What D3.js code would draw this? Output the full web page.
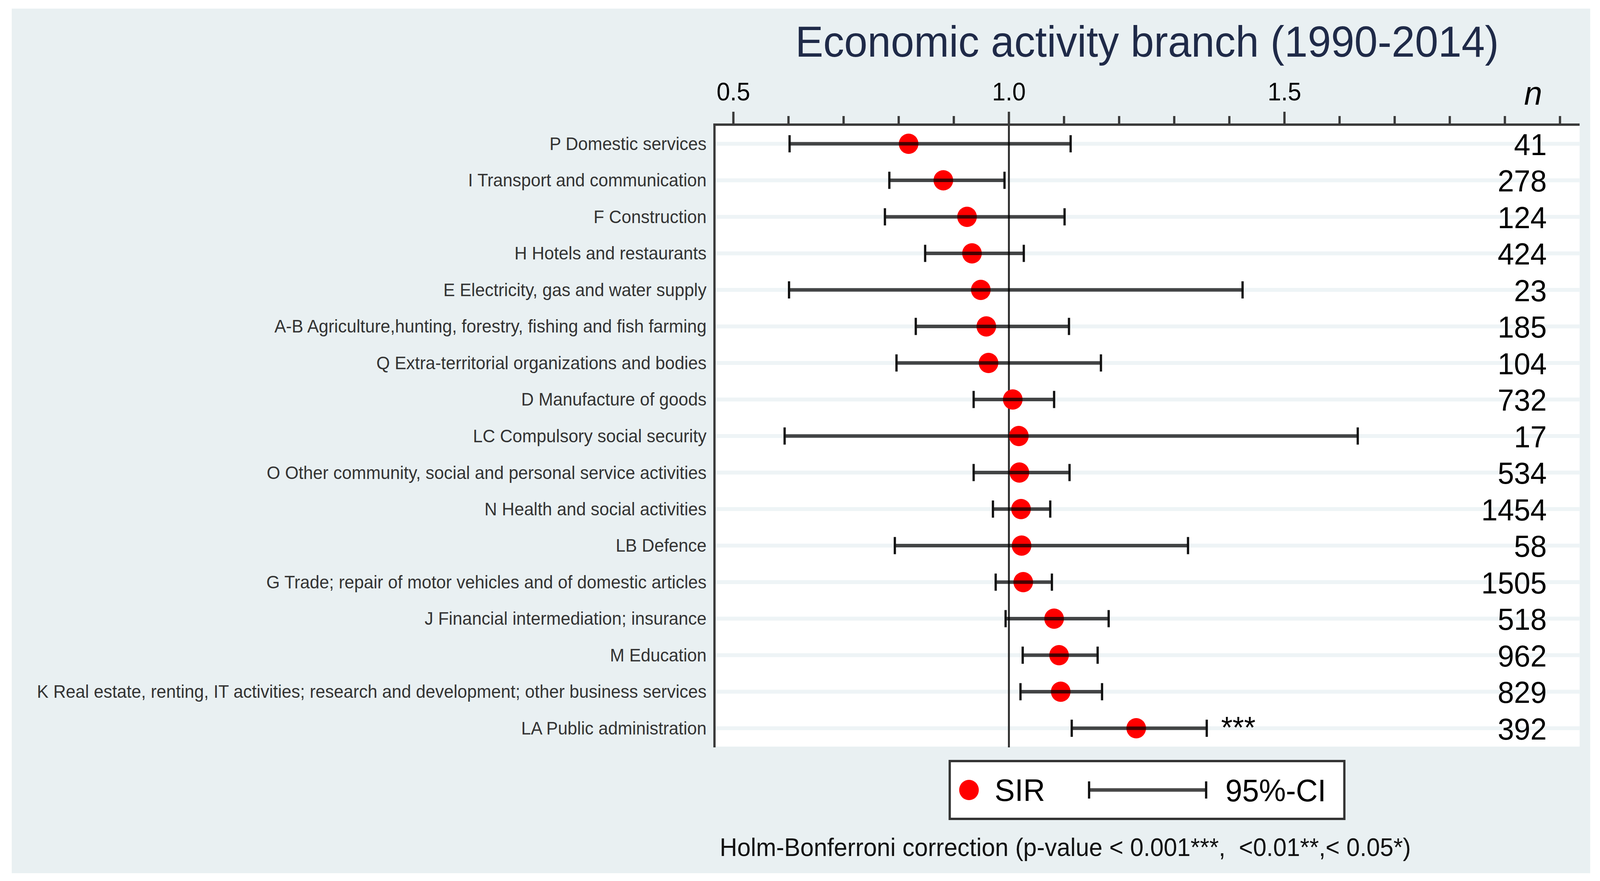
<!DOCTYPE html>
<html>
<head>
<meta charset="utf-8">
<script src="https://cdn.jsdelivr.net/npm/d3@7"></script>
<style>
  html, body { margin: 0; padding: 0; background: #ffffff; overflow: hidden; }
  svg { display: block; width: 100vw; height: 100vh; }
  text { font-family: "Liberation Sans", Arial, sans-serif; }
</style>
</head>
<body>
<svg id="chart" viewBox="0 0 4237 2255" preserveAspectRatio="none"></svg>
<script>
// ---------- data ----------
const categories = [
  "P Domestic services",
  "I Transport and communication",
  "F Construction",
  "H Hotels and restaurants",
  "E Electricity, gas and water supply",
  "A-B Agriculture,hunting, forestry, fishing and fish farming",
  "Q Extra-territorial organizations and bodies",
  "D Manufacture of goods",
  "LC Compulsory social security",
  "O Other community, social and personal service activities",
  "N Health and social activities",
  "LB Defence",
  "G Trade; repair of motor vehicles and of domestic articles",
  "J Financial intermediation; insurance",
  "M Education",
  "K Real estate, renting, IT activities; research and development; other business services",
  "LA Public administration"
];
const sir    = [0.818, 0.881, 0.924, 0.933, 0.949, 0.959, 0.963, 1.007, 1.018, 1.019, 1.022, 1.023, 1.026, 1.082, 1.091, 1.094, 1.231];
const ciLow  = [0.602, 0.783, 0.775, 0.848, 0.601, 0.831, 0.796, 0.936, 0.593, 0.936, 0.971, 0.793, 0.976, 0.994, 1.025, 1.021, 1.114];
const ciHigh = [1.112, 0.992, 1.101, 1.027, 1.424, 1.109, 1.167, 1.082, 1.633, 1.110, 1.075, 1.325, 1.078, 1.181, 1.161, 1.169, 1.359];
const nCases = [41, 278, 124, 424, 23, 185, 104, 732, 17, 534, 1454, 58, 1505, 518, 962, 829, 392];
const signif = ["", "", "", "", "", "", "", "", "", "", "", "", "", "", "", "", "***"];
const majorTicks = [0.5, 1.0, 1.5];
const allTicks = [0.5, 0.6, 0.7, 0.8, 0.9, 1.0, 1.1, 1.2, 1.3, 1.4, 1.5, 1.6, 1.7, 1.8, 1.9, 2.0];
const titleText = "Economic activity branch (1990-2014)";
const footnote = "Holm-Bonferroni correction (p-value < 0.001***,  <0.01**,< 0.05*)";

// ---------- layout ----------
const svg = d3.select("#chart");
const plotL = 1892, plotR = 4183, plotT = 319, plotB = 1911;

const x = d3.scaleLinear().domain([0.4657, 2.0356]).range([plotL, plotR]);
const y = d3.scalePoint().domain(categories).range([368, 1864]);

const rows = categories.map((c, i) => ({
  cat: c, sir: sir[i], lo: ciLow[i], hi: ciHigh[i], n: nCases[i], sig: signif[i]
}));

// panel background
svg.append("rect").attr("x", 31).attr("y", 22).attr("width", 4180).attr("height", 2213)
  .attr("fill", "#e9f0f2");

// plot area
svg.append("rect").attr("x", plotL).attr("y", plotT).attr("width", plotR - plotL).attr("height", plotB - plotT)
  .attr("fill", "#ffffff");

// gridlines
svg.append("g").selectAll("line").data(rows).join("line")
  .attr("x1", plotL).attr("x2", plotR)
  .attr("y1", d => y(d.cat)).attr("y2", d => y(d.cat))
  .attr("stroke", "#eef4f6").attr("stroke-width", 10);

// reference line at 1.0
svg.append("line")
  .attr("x1", x(1)).attr("x2", x(1)).attr("y1", plotT).attr("y2", plotB + 2)
  .attr("stroke", "#2b2b2b").attr("stroke-width", 5);

// title
svg.append("text").attr("x", (plotL + plotR) / 2).attr("y", 145)
  .attr("text-anchor", "middle").attr("font-size", 111).attr("fill", "#1f2a48")
  .text(titleText);

// top axis
const axisG = svg.append("g");
axisG.selectAll("line.tick").data(allTicks).join("line")
  .attr("class", "tick")
  .attr("x1", d => x(d)).attr("x2", d => x(d))
  .attr("y1", d => majorTicks.includes(d) ? plotT - 33 : plotT - 22)
  .attr("y2", plotT)
  .attr("stroke", "#3a3a3a").attr("stroke-width", 6);
axisG.selectAll("text").data(majorTicks).join("text")
  .attr("x", d => x(d)).attr("y", 257)
  .attr("text-anchor", "middle").attr("font-size", 64).attr("fill", "#000")
  .text(d => d3.format(".1f")(d));
axisG.append("line").attr("x1", plotL - 3).attr("x2", plotR).attr("y1", plotT).attr("y2", plotT)
  .attr("stroke", "#3a3a3a").attr("stroke-width", 6);
// left axis line
axisG.append("line").attr("x1", plotL).attr("x2", plotL).attr("y1", plotT - 3).attr("y2", plotB + 2)
  .attr("stroke", "#3a3a3a").attr("stroke-width", 6);

// n header
svg.append("text").attr("x", 4060).attr("y", 268).attr("text-anchor", "middle")
  .attr("font-size", 86).attr("font-style", "italic").attr("fill", "#000").text("n");

// category labels
svg.append("g").selectAll("text").data(rows).join("text")
  .attr("x", 1871).attr("y", d => y(d.cat) + 16)
  .attr("text-anchor", "end").attr("font-size", 46).attr("fill", "#333")
  .text(d => d.cat);

// dots
svg.append("g").selectAll("circle").data(rows).join("circle")
  .attr("cx", d => x(d.sir)).attr("cy", d => y(d.cat)).attr("r", 26)
  .attr("fill", "#ff0000");

// CI lines
const ci = svg.append("g");
ci.selectAll("line.ci").data(rows).join("line").attr("class", "ci")
  .attr("x1", d => x(d.lo)).attr("x2", d => x(d.hi))
  .attr("y1", d => y(d.cat)).attr("y2", d => y(d.cat))
  .attr("stroke", "#000").attr("stroke-opacity", 0.72).attr("stroke-width", 9);
ci.selectAll("line.capL").data(rows).join("line").attr("class", "capL")
  .attr("x1", d => x(d.lo)).attr("x2", d => x(d.lo))
  .attr("y1", d => y(d.cat) - 22).attr("y2", d => y(d.cat) + 22)
  .attr("stroke", "#111").attr("stroke-width", 6);
ci.selectAll("line.capR").data(rows).join("line").attr("class", "capR")
  .attr("x1", d => x(d.hi)).attr("x2", d => x(d.hi))
  .attr("y1", d => y(d.cat) - 22).attr("y2", d => y(d.cat) + 22)
  .attr("stroke", "#111").attr("stroke-width", 6);

// significance stars
svg.append("g").selectAll("text").data(rows.filter(d => d.sig)).join("text")
  .attr("x", d => x(d.hi) + 38).attr("y", d => y(d.cat) + 25)
  .attr("font-size", 78).attr("fill", "#000")
  .text(d => d.sig);

// n values
svg.append("g").selectAll("text").data(rows).join("text")
  .attr("x", 4096).attr("y", d => y(d.cat) + 29)
  .attr("text-anchor", "end").attr("font-size", 78).attr("fill", "#000")
  .text(d => d.n);

// legend
const lg = svg.append("g");
lg.append("rect").attr("x", 2515).attr("y", 1948).attr("width", 1045).attr("height", 148)
  .attr("fill", "#fff").attr("stroke", "#333").attr("stroke-width", 6);
lg.append("circle").attr("cx", 2566).attr("cy", 2022).attr("r", 26).attr("fill", "#ff0000");
lg.append("text").attr("x", 2634).attr("y", 2050).attr("font-size", 80).attr("fill", "#000").text("SIR");
lg.append("line").attr("x1", 2884).attr("x2", 3194).attr("y1", 2022).attr("y2", 2022)
  .attr("stroke", "#000").attr("stroke-opacity", 0.72).attr("stroke-width", 9);
lg.selectAll("line.cap").data([2884, 3194]).join("line").attr("class", "cap")
  .attr("x1", d => d).attr("x2", d => d).attr("y1", 2000).attr("y2", 2044)
  .attr("stroke", "#111").attr("stroke-width", 6);
lg.append("text").attr("x", 3245).attr("y", 2051).attr("font-size", 80).attr("fill", "#000").text("95%-CI");

// footnote
svg.append("text").attr("x", 1906).attr("y", 2191).attr("font-size", 64).attr("fill", "#111")
  .attr("xml:space", "preserve").style("white-space", "pre")
  .text(footnote);
</script>
</body>
</html>
